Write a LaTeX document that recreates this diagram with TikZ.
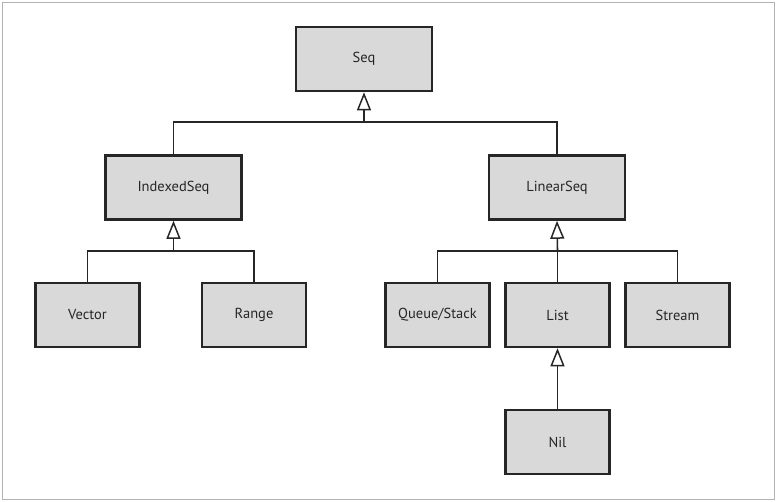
\documentclass[tikz,border=0pt]{standalone}
\usepackage{fontspec}
\setmainfont{PT Sans}
\usetikzlibrary{arrows.meta}
\definecolor{boxfill}{HTML}{D9D9D9}
\definecolor{ink}{HTML}{262626}
\tikzset{
  cls/.style={draw=ink, line width=2.6pt, fill=boxfill, minimum width=#1, minimum height=64pt, inner sep=0pt, text=ink, font=\fontsize{14.5}{17}\selectfont},
  cls/.default=104pt,
  conn/.style={draw=ink, line width=1.6pt},
  inh/.style={conn, -{Triangle[open, width=14pt, length=18pt, line width=1.5pt]}}
}
\begin{document}
\begin{tikzpicture}[x=1pt, y=-1pt]
\useasboundingbox (0,0) rectangle (777,502);
\draw[draw=gray!60, line width=0.9pt] (2,2) rectangle (774,499);

\node[cls=136pt] (Seq) at (364,59) {Seq};
\node[cls=136pt] (IndexedSeq) at (173.5,187.5) {IndexedSeq};
\node[cls=136pt] (LinearSeq) at (557,187.5) {LinearSeq};
\node[cls] (Vector) at (87.5,315) {Vector};
\node[cls] (Range) at (254,315) {Range};
\node[cls] (Queue) at (437.5,315) {Queue/Stack};
\node[cls] (List) at (557.5,315) {List};
\node[cls] (Stream) at (677.5,315) {Stream};
\node[cls] (Nil) at (557.5,442) {Nil};

\coordinate (j1) at (364,122);
\draw[conn] (IndexedSeq.north) |- (j1) -| (LinearSeq.north);
\draw[inh] (j1) -- (Seq.south);

\coordinate (j2) at (173.5,251);
\draw[conn] (Vector.north) |- (j2) -| (Range.north);
\draw[inh] (j2) -- (IndexedSeq.south);

\coordinate (j3) at (557.5,251);
\draw[conn] (Queue.north) |- (j3) -| (Stream.north);
\draw[conn] (List.north) -- (j3);
\draw[inh] (j3) -- (LinearSeq.south);

\draw[inh] (Nil.north) -- (List.south);
\end{tikzpicture}
\end{document}
